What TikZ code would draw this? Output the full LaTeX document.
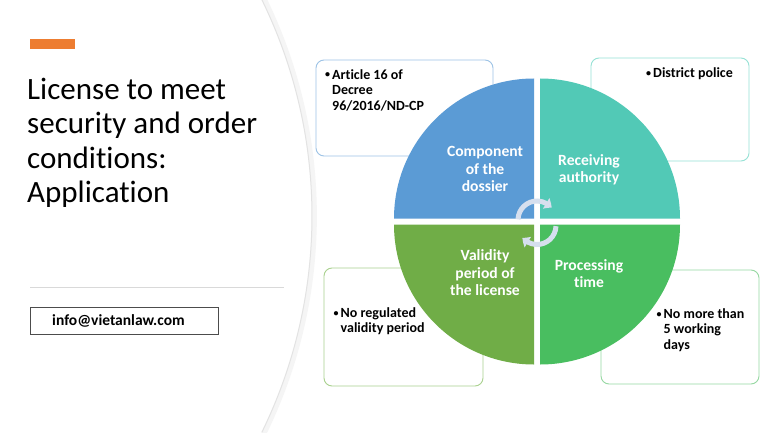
\documentclass[tikz,border=0pt]{standalone}
\usepackage{fontspec}
\setmainfont{Carlito}[Ligatures=NoCommon]
\usepackage{tikz}
\usetikzlibrary{arrows.meta,bending}

\definecolor{qblue}{RGB}{91,155,213}
\definecolor{qteal}{RGB}{82,201,182}
\definecolor{qgreen}{RGB}{73,190,96}
\definecolor{qolive}{RGB}{112,173,71}
\definecolor{bblue}{RGB}{157,195,230}
\definecolor{bteal}{RGB}{150,226,213}
\definecolor{bolive}{RGB}{169,209,142}
\definecolor{bgreen}{RGB}{150,216,162}
\definecolor{barorange}{RGB}{237,125,49}
\definecolor{turngrey}{RGB}{214,223,238}

\tikzset{
  quad/.style={text=white,align=center,font=\bfseries\fontsize{15.6}{17.5}\selectfont},
  note/.style={anchor=base west,inner sep=0pt,align=left,font=\bfseries\fontsize{14}{15.3}\selectfont},
  notebox/.style={fill=white,rounded corners=8pt,line width=0.9pt},
  turn/.style={draw=turngrey,line width=5pt,-{Triangle[width=12pt,length=7pt,bend]}}
}
\newcommand{\bul}{\makebox[7pt][l]{\raisebox{1.5pt}{\fontsize{10}{10}\selectfont\textbullet}}}
\newcommand{\ind}{\hspace*{7pt}}

\begin{document}
\begin{tikzpicture}[x=1pt,y=1pt]
  \useasboundingbox (0,0) rectangle (768,432);
  \fill[white] (0,0) rectangle (768,432);

  % edge of the left panel
  \draw[gray!8,line width=5pt] ([shift={(26.3:494)}]-179.6,216) arc[start angle=26.3,end angle=-26.3,radius=494];
  \draw[gray!22,line width=1pt] ([shift={(26.1:491.6)}]-179.6,216) arc[start angle=26.1,end angle=-26.1,radius=491.6];

  % title side (base = last line)
  \fill[barorange] (30,383) rectangle (75,393);
  \node[anchor=base west,inner sep=0pt,align=left,font=\fontsize{31}{34.5}\selectfont] (title) at (27,229.5)
    {License to meet\\security and order\\conditions:\\Application};
  \draw[gray!30,line width=1pt] (30,145) -- (284,145);
  \draw[gray!60!black,line width=0.8pt] (30,98) rectangle (218,125);
  \node[anchor=base west,inner sep=0pt,font=\bfseries\fontsize{15.5}{18}\selectfont] (mail) at (52,106.5) {info@vietanlaw.com};

  % note boxes
  \draw[notebox,draw=bblue] (316,276) rectangle (493,372);
  \draw[notebox,draw=bteal] (591,271) rectangle (749,374);
  \draw[notebox,draw=bolive] (324,46) rectangle (483,164);
  \draw[notebox,draw=bgreen] (601,48) rectangle (759,162);

  \node[note] (article) at (325,321.9) {\bul Article 16 of\\\ind Decree\\\ind 96/2016/ND-CP};
  \node[note] (police) at (646,354.5) {\bul District police};
  \node[note] (period) at (333.5,99.2) {\bul No regulated\\\ind validity period};
  \node[note] (days) at (656.5,82.9) {\bul No more than\\\ind 5 working\\\ind days};

  % quarters
  \fill[qblue] (534,213.5) -- ++(-140,0) arc[start angle=180,end angle=90,radius=140] -- cycle;
  \fill[qteal] (540,213.5) -- ++(0,140) arc[start angle=90,end angle=0,radius=140] -- cycle;
  \fill[qgreen] (540,207.5) -- ++(140,0) arc[start angle=0,end angle=-90,radius=140] -- cycle;
  \fill[qolive] (534,207.5) -- ++(0,-140) arc[start angle=270,end angle=180,radius=140] -- cycle;

  \node[quad] (dossier) at (485,263) {Component\\of the\\dossier};
  \node[quad] (authority) at (589,262) {Receiving\\authority};
  \node[quad] (validity) at (485,159) {Validity\\period of\\the license};
  \node[quad] (time) at (589,158.5) {Processing\\time};

  % turning arrows
  \draw[turn] ([shift={(178:19)}]537,212) arc[start angle=178,end angle=40,radius=19];
  \draw[turn] ([shift={(-2:19)}]537,206.5) arc[start angle=-2,end angle=-140,radius=19];
\end{tikzpicture}
\end{document}
